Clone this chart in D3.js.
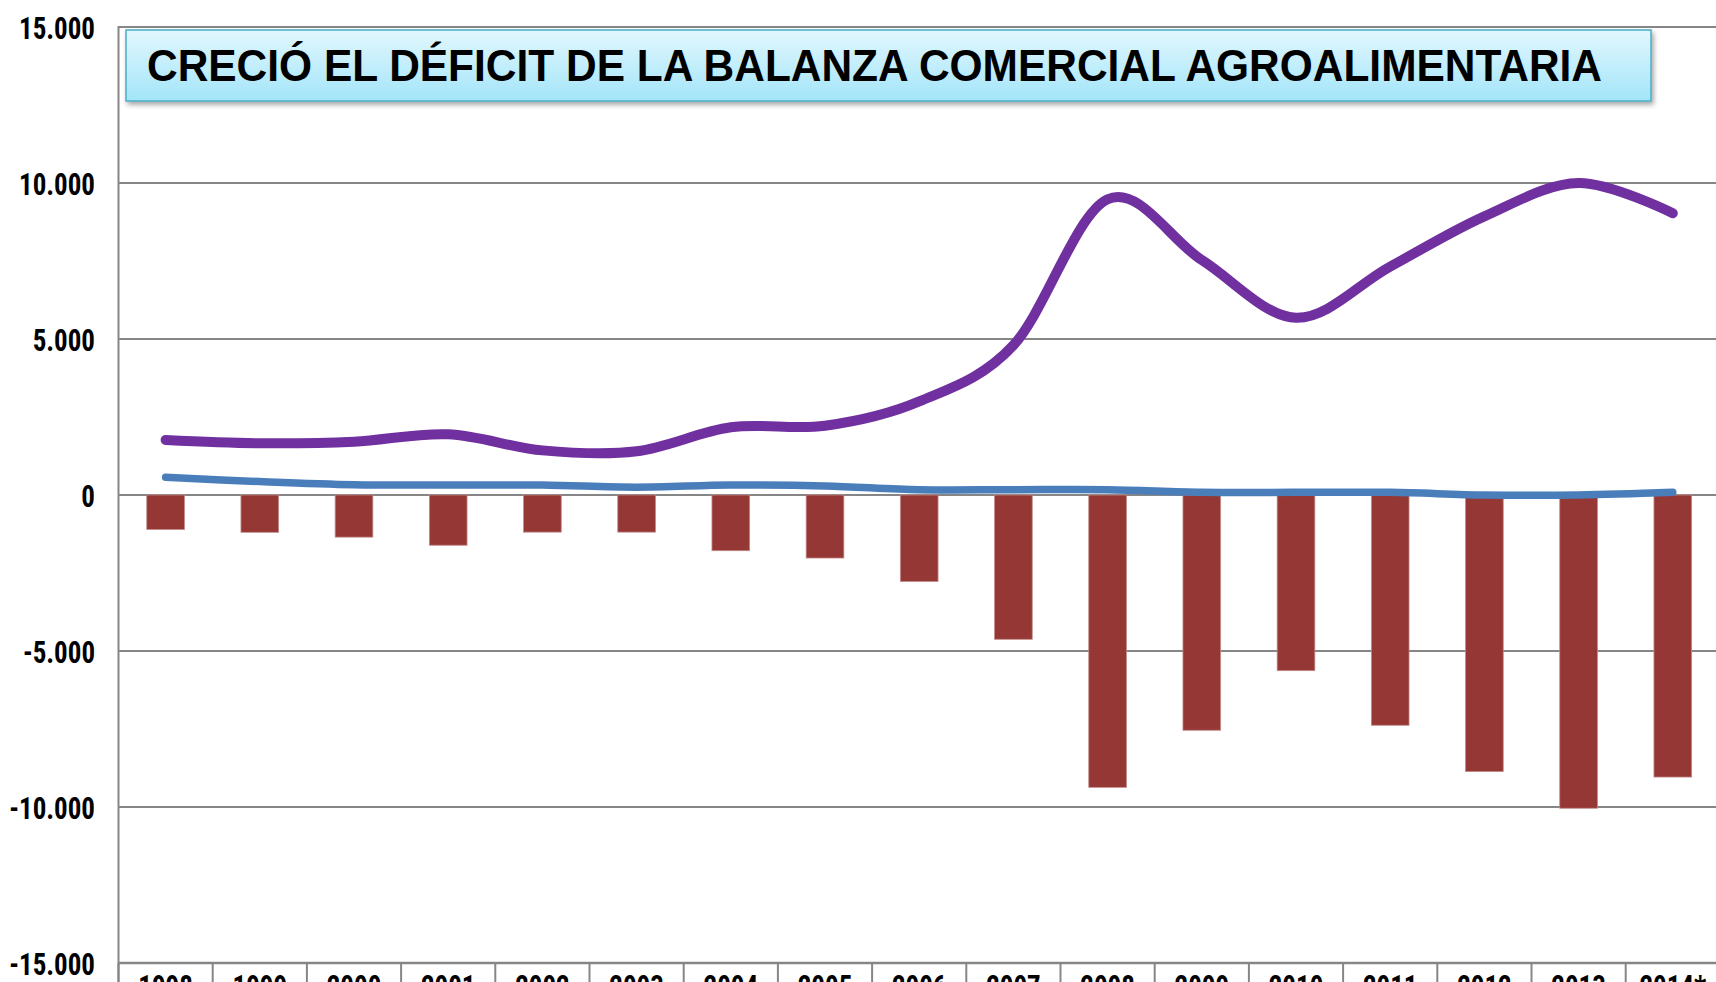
<!DOCTYPE html>
<html>
<head>
<meta charset="utf-8">
<script src="https://cdn.jsdelivr.net/npm/d3@7"></script>
<style>
  html, body { margin: 0; padding: 0; background: #fff; overflow: hidden; }
  svg { display: block; }
</style>
</head>
<body>
<svg id="canvas" width="1716" height="982"></svg>
<script>
// data (millones)
const years = ["1998", "1999", "2000", "2001", "2002", "2003", "2004", "2005", "2006",
  "2007", "2008", "2009", "2010", "2011", "2012", "2013", "2014*"];
const balance = [-1105, -1195, -1350, -1610, -1190, -1190, -1785, -2020, -2770,
  -4625, -9370, -7540, -5630, -7380, -8865, -10040, -9040];
const deficit = [1765, 1660, 1710, 1945, 1430, 1400, 2170, 2220, 3000,
  4800, 9480, 7530, 5680, 7320, 8930, 10000, 9030];
const lowLine = [567, 430, 330, 320, 320, 250, 320, 290, 170,
  170, 170, 90, 85, 85, 0, 0, 85];
const yTicks = [15000, 10000, 5000, 0, -5000, -10000, -15000];
const title = "CRECIÓ EL DÉFICIT DE LA BALANZA COMERCIAL AGROALIMENTARIA";

const W = 1716;
const left = 118.5;
const step = 94.2;
const narrow = "'Liberation Sans Narrow', 'Arial Narrow', 'Roboto Condensed', sans-serif";
const squeeze = 0.87; // labels are a tall condensed face

const svg = d3.select("#canvas");

const x = d3.scaleBand()
  .domain(years)
  .range([left, left + step * years.length])
  .paddingInner(0.6)
  .paddingOuter(0.3);

const y = d3.scaleLinear().domain([-15000, 15000]).range([963, 27]);

const es = d3.formatLocale({ decimal: ",", thousands: ".", grouping: [3], currency: ["", ""], minus: "-" });
const fmt = es.format(",d");

// gridlines
svg.append("g")
  .selectAll("line")
  .data(yTicks.filter(d => d !== -15000))
  .enter()
  .append("line")
  .attr("x1", left)
  .attr("x2", W)
  .attr("y1", d => y(d))
  .attr("y2", d => y(d))
  .attr("stroke", "#868686")
  .attr("stroke-width", 2);

// value axis labels
const yAxis = svg.append("g")
  .attr("transform", `translate(${left},0)`)
  .call(d3.axisLeft(y).tickValues(yTicks).tickSize(0).tickPadding(23.5).tickFormat(fmt));
yAxis.select(".domain").remove();
yAxis.selectAll("text")
  .attr("x", -23.5 / squeeze)
  .attr("dy", "0.36em")
  .attr("transform", `scale(${squeeze},1)`)
  .attr("font-family", narrow)
  .attr("font-weight", "bold")
  .attr("font-size", 31)
  .attr("fill", "#000");

// vertical axis line
svg.append("line")
  .attr("x1", left).attr("x2", left)
  .attr("y1", y(15000) - 1).attr("y2", 982)
  .attr("stroke", "#868686")
  .attr("stroke-width", 2);

// category axis
const xAxis = svg.append("g")
  .attr("transform", `translate(0,${y(-15000)})`)
  .call(d3.axisBottom(x).tickSize(0));
xAxis.select(".domain").remove();
xAxis.selectAll(".tick")
  .attr("transform", d => `translate(${(x(d) + x.bandwidth() / 2) * squeeze},0) scale(${squeeze},1) translate(${(x(d) + x.bandwidth() / 2) * (1 / squeeze - 1)},0)`);
xAxis.selectAll("text")
  .attr("y", 34)
  .attr("dy", null)
  .attr("font-family", narrow)
  .attr("font-weight", "bold")
  .attr("font-size", 31)
  .attr("fill", "#000");

const half = (x.step() - x.bandwidth()) / 2;
const bounds = years.map(d => x(d) - half).concat([x(years[years.length - 1]) + x.bandwidth() + half]);
svg.append("g")
  .selectAll("line")
  .data(bounds)
  .enter()
  .append("line")
  .attr("x1", d => d).attr("x2", d => d)
  .attr("y1", y(-15000)).attr("y2", 982)
  .attr("stroke", "#868686")
  .attr("stroke-width", 2);

svg.append("line")
  .attr("x1", left).attr("x2", W)
  .attr("y1", y(-15000)).attr("y2", y(-15000))
  .attr("stroke", "#868686")
  .attr("stroke-width", 2.6);

// bars
svg.append("g")
  .selectAll("rect")
  .data(balance)
  .enter()
  .append("rect")
  .attr("x", (d, i) => x(years[i]))
  .attr("width", x.bandwidth())
  .attr("y", d => y(Math.max(0, d)))
  .attr("height", d => Math.abs(y(d) - y(0)))
  .attr("fill", "#953735")
  .attr("stroke", "#c08a88")
  .attr("stroke-width", 0.8);

// smoothed lines
const line = d3.line()
  .x((d, i) => x(years[i]) + x.bandwidth() / 2)
  .y(d => y(d))
  .curve(d3.curveCardinal.tension(0));

svg.append("path")
  .datum(lowLine)
  .attr("d", line)
  .attr("fill", "none")
  .attr("stroke", "#4a7ebb")
  .attr("stroke-width", 7.5)
  .attr("stroke-linecap", "round")
  .attr("stroke-linejoin", "round");

svg.append("path")
  .datum(deficit)
  .attr("d", line)
  .attr("fill", "none")
  .attr("stroke", "#7030a0")
  .attr("stroke-width", 10)
  .attr("stroke-linecap", "round")
  .attr("stroke-linejoin", "round");

// title box
const defs = svg.append("defs");
const grad = defs.append("linearGradient")
  .attr("id", "boxFill")
  .attr("x1", 0).attr("y1", 0).attr("x2", 0).attr("y2", 1);
grad.append("stop").attr("offset", "0%").attr("stop-color", "#e2f7fe");
grad.append("stop").attr("offset", "100%").attr("stop-color", "#a3e5f9");
defs.append("filter")
  .attr("id", "shadow")
  .attr("x", "-5%").attr("y", "-20%").attr("width", "110%").attr("height", "150%")
  .append("feDropShadow")
  .attr("dx", 2).attr("dy", 3).attr("stdDeviation", 2.5)
  .attr("flood-color", "#000").attr("flood-opacity", 0.35);

svg.append("rect")
  .attr("x", 126).attr("y", 30)
  .attr("width", 1525).attr("height", 71)
  .attr("fill", "url(#boxFill)")
  .attr("stroke", "#4bacc6")
  .attr("stroke-width", 1.5)
  .attr("filter", "url(#shadow)");

svg.append("text")
  .attr("x", 147)
  .attr("y", 80.5)
  .attr("font-family", "'Liberation Sans', Arial, sans-serif")
  .attr("font-weight", "bold")
  .attr("font-size", 44)
  .attr("textLength", 1455)
  .attr("lengthAdjust", "spacingAndGlyphs")
  .attr("fill", "#000")
  .text(title);
</script>
</body>
</html>
